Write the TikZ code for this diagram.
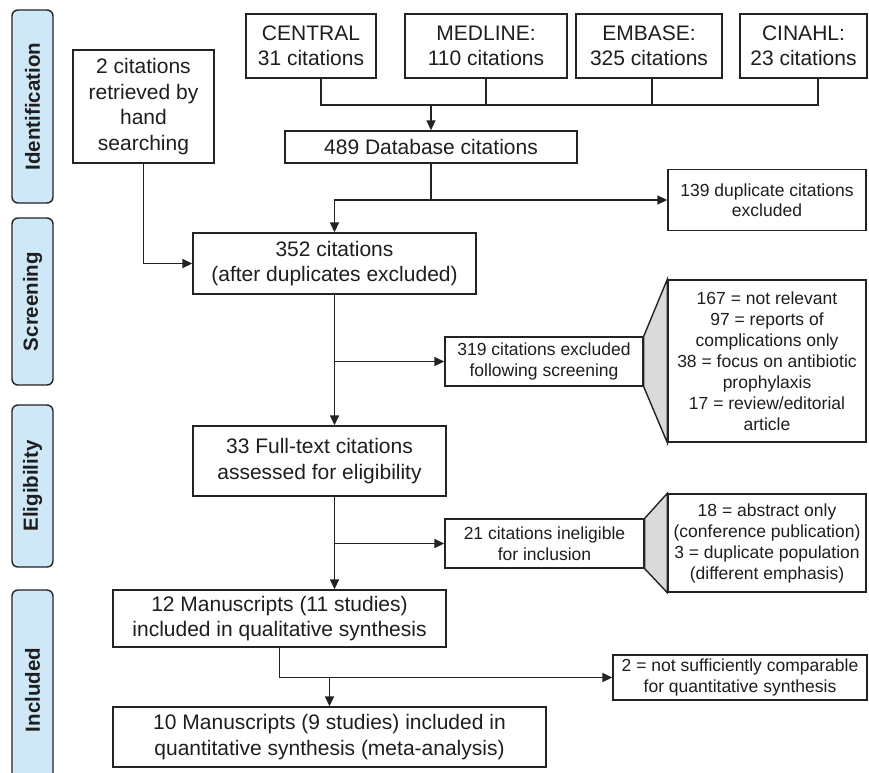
\documentclass[tikz,border=0pt]{standalone}
\usepackage{fontspec}
\setmainfont{Liberation Sans}
\usetikzlibrary{arrows.meta,calc}
\definecolor{phasefill}{RGB}{207,232,248}
\definecolor{linecol}{RGB}{35,35,35}
\definecolor{textcol}{RGB}{30,30,30}
\definecolor{trapfill}{RGB}{217,218,220}
\begin{document}
\begin{tikzpicture}[x=1pt,y=-1pt,
  box/.style={draw=linecol, line width=1.4pt, fill=white, text=textcol, align=center, inner sep=0pt,
    font=\fontsize{21}{25.5}\selectfont},
  sidebox/.style={box, font=\fontsize{17.5}{20.5}\selectfont},
  reasonbox/.style={box, font=\fontsize{17.5}{21}\selectfont},
  phase/.style={draw=linecol, line width=1.4pt, fill=phasefill, rounded corners=6pt, rotate=90,
    text=textcol, inner sep=0pt, minimum height=41pt, font=\fontsize{20.5}{24}\selectfont\bfseries},
  conn/.style={draw=linecol, line width=1.5pt},
  arr/.style={conn, -{Triangle[length=10pt,width=9pt]}}
]
\clip (0,0) rectangle (869,772);
\fill[white] (0,0) rectangle (869,772);

% phase labels
\node[phase, minimum width=193pt] (pid) at (32.5,106.5) {Identification};
\node[phase, minimum width=167pt] (psc) at (32.5,301.5) {Screening};
\node[phase, minimum width=162pt] (pel) at (32.5,486) {Eligibility};
\node[phase, minimum width=200pt] (pin) at (32.5,690) {Included};

% top databases
\node[box, minimum width=130pt, minimum height=64pt] (central) at (311,46) {CENTRAL\\31 citations};
\node[box, minimum width=162pt, minimum height=64pt] (medline) at (486,46) {MEDLINE:\\110 citations};
\node[box, minimum width=146pt, minimum height=64pt] (embase) at (649,46) {EMBASE:\\325 citations};
\node[box, minimum width=127pt, minimum height=64pt] (cinahl) at (803.5,46) {CINAHL:\\23 citations};

\node[box, minimum width=141pt, minimum height=113pt] (hand) at (143.5,106.5) {2 citations\\retrieved by\\hand\\searching};
\node[box, minimum width=292pt, minimum height=32pt] (database) at (431,147) {489 Database citations};
\node[sidebox, minimum width=198pt, minimum height=61pt] (dup) at (767,200) {139 duplicate citations\\excluded};
\node[box, minimum width=283pt, minimum height=61pt] (s352) at (334.5,263.5) {352 citations\\(after duplicates excluded)};

\node[sidebox, minimum width=198pt, minimum height=49pt] (excl319) at (544,361.5) {319 citations excluded\\following screening};
\node[reasonbox, minimum width=198pt, minimum height=162pt] (reasons1) at (767,361) {167 = not relevant\\97 = reports of\\complications only\\38 = focus on antibiotic\\prophylaxis\\17 = review/editorial\\article};

\node[box, minimum width=253pt, minimum height=70pt] (f33) at (319.5,461) {33 Full-text citations\\assessed for eligibility};

\node[sidebox, minimum width=199pt, minimum height=49pt] (excl21) at (544.5,543.5) {21 citations ineligible\\for inclusion};
\node[reasonbox, minimum width=198pt, minimum height=98pt] (reasons2) at (767,543) {18 = abstract only\\(conference publication)\\3 = duplicate population\\(different emphasis)};

\node[box, minimum width=333pt, minimum height=57pt] (m12) at (279.5,618.5) {12 Manuscripts (11 studies)\\included in qualitative synthesis};
\node[sidebox, minimum width=254pt, minimum height=45pt] (not2) at (740,677.5) {2 = not sufficiently comparable\\for quantitative synthesis};
\node[box, minimum width=433pt, minimum height=60pt] (m10) at (329.5,737) {10 Manuscripts (9 studies) included in\\quantitative synthesis (meta-analysis)};

% trapezoids
\draw[conn, fill=trapfill, line width=1.4pt] (excl319.north east) -- (reasons1.north west) -- (reasons1.south west) -- (excl319.south east) -- cycle;
\draw[conn, fill=trapfill, line width=1.4pt] (excl21.north east) -- (reasons2.north west) -- (reasons2.south west) -- (excl21.south east) -- cycle;

% database bus
\coordinate (busL) at ([xshift=10pt]central.south |- 0,105);
\coordinate (busR) at ([xshift=14.5pt]cinahl.south |- 0,105);
\draw[conn] ([xshift=10pt]central.south) -- (busL) -- (busR) -- ([xshift=14.5pt]cinahl.south);
\draw[conn] (medline.south) -- (medline.south |- busL);
\draw[conn] ([xshift=3pt]embase.south) -- ([xshift=3pt]embase.south |- busL);
\draw[arr] (database.north |- busL) -- (database.north);

% database to 352 and duplicates
\coordinate (br1) at (database.south |- dup.west);
\draw[conn] (database.south) -- (br1);
\draw[arr] (br1) -| (s352.north);
\draw[arr] (br1) -- (dup.west);
\draw[arr] (hand.south) |- (s352.west);

% screening
\draw[arr] (s352.south) -- (s352.south |- f33.north);
\draw[arr] (s352.south |- excl319.west) -- (excl319.west);

% eligibility
\coordinate (v2) at (s352.south |- f33.south);
\draw[arr] (v2) -- (v2 |- m12.north);
\draw[arr] (v2 |- excl21.west) -- (excl21.west);

% included
\draw[arr] (m12.south) |- (not2.west);
\draw[arr] (m10.north |- not2.west) -- (m10.north);
\end{tikzpicture}
\end{document}
